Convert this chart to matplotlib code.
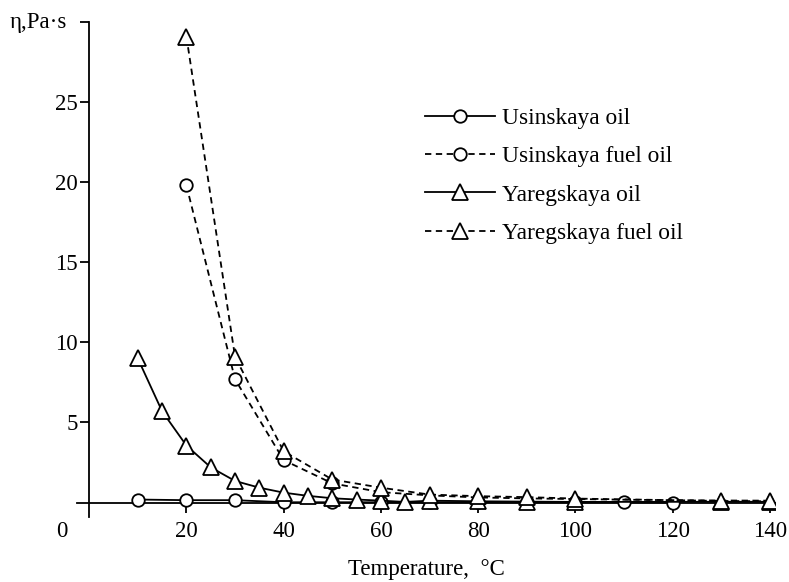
import numpy as np
import matplotlib.pyplot as plt

plt.rcParams['font.family'] = ['Liberation Serif', 'DejaVu Serif']

# Вязкость нефтей и мазутов в зависимости от температуры
t_usin_oil = [10, 20, 30, 40, 50, 60, 70, 80, 90, 100, 110, 120]
eta_usin_oil = [0.19, 0.15, 0.15, 0.02, 0.02, 0.02, 0.02, 0.02, 0.02, 0.02, 0.02, 0.0]

t_usin_fuel = [20, 30, 40, 50, 60, 70, 80, 90, 100, 110, 120, 130, 140]
eta_usin_fuel = [19.8, 7.7, 2.65, 1.2, 0.65, 0.45, 0.32, 0.26, 0.22, 0.18, 0.15, 0.13, 0.12]

t_yar_oil = [10, 15, 20, 25, 30, 35, 40, 45, 50, 55, 60, 65, 70, 80, 90, 100, 130, 140]
eta_yar_oil = [9.0, 5.7, 3.56, 2.2, 1.35, 0.93, 0.62, 0.42, 0.27, 0.19, 0.12, 0.04,
               0.12, 0.08, 0.06, 0.04, 0.05, 0.05]

t_yar_fuel = [20, 30, 40, 50, 60, 70, 80, 90, 100, 130, 140]
eta_yar_fuel = [29.1, 9.1, 3.2, 1.44, 0.93, 0.5, 0.4, 0.34, 0.25, 0.1, 0.08]

x_ticks = [20, 40, 60, 80, 100, 120, 140]
y_ticks = [5, 10, 15, 20, 25, 30]

fig = plt.figure(figsize=(7.89, 5.82), dpi=100)
ax = fig.add_axes([0.0976, 0.1117, 0.8844, 0.8503])

fs = 16.5
lw = 1.3
mk = dict(markerfacecolor='white', markeredgecolor='black', markeredgewidth=1.3)
dash = (0, (3.5, 2.5))

ax.plot(t_usin_oil, eta_usin_oil, '-', color='black', lw=lw, marker='o', ms=9,
        label='Usinskaya oil', zorder=3, **mk)
ax.plot(t_usin_fuel, eta_usin_fuel, linestyle=dash, color='black', lw=lw, marker='o', ms=9,
        markevery=[0, 1, 2, 3], label='Usinskaya fuel oil', zorder=3, **mk)
ax.plot(t_yar_oil, eta_yar_oil, '-', color='black', lw=lw, marker='^', ms=11,
        label='Yaregskaya oil', zorder=4, **mk)
ax.plot(t_yar_fuel, eta_yar_fuel, linestyle=dash, color='black', lw=lw, marker='^', ms=11,
        label='Yaregskaya fuel oil', zorder=4, **mk)

ax.set_xlim(-2.5, 141)
ax.set_ylim(-0.9, 30)

# оси пересекаются в нуле
ax.spines['left'].set_position(('data', 0))
ax.spines['bottom'].set_position(('data', 0))
ax.spines['top'].set_visible(False)
ax.spines['right'].set_visible(False)
for s in ('left', 'bottom'):
    ax.spines[s].set_linewidth(1.3)

ax.set_xticks(x_ticks)
ax.set_yticks(y_ticks)
ax.set_yticklabels([str(v) for v in y_ticks[:-1]] + [''])
ax.tick_params(axis='x', direction='out', length=7, width=1.3, labelsize=fs, pad=6)
ax.tick_params(axis='y', direction='out', length=6.5, width=1.3, labelsize=fs, pad=1.5)

ax.text(-0.014, 30, 'η,Pa·s', fontsize=fs, ha='right', va='center',
        transform=ax.get_yaxis_transform(), clip_on=False)
ax.text(-5.6, -1.8, '0', fontsize=fs, ha='center', va='center', clip_on=False)

ax.set_xlabel('Temperature,  °C', fontsize=fs, labelpad=12.5)

ax.legend(loc='upper left', bbox_to_anchor=(425 / 789, 1 - 108 / 582),
          bbox_transform=fig.transFigure, frameon=False, fontsize=16.8,
          handlelength=3.0, handletextpad=0.3, labelspacing=0.72,
          borderpad=0, borderaxespad=0)

fig.savefig('out.png', dpi=100)
